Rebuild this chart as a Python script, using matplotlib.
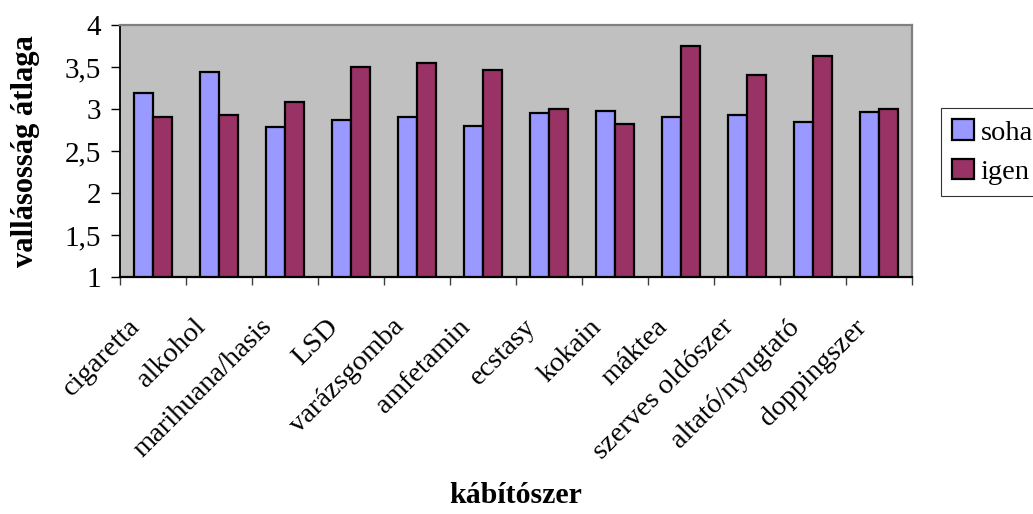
"""Grouped bar chart: mean religiosity by drug use (never / yes)."""
import matplotlib
matplotlib.use("Agg")
import matplotlib.pyplot as plt
import matplotlib.ticker as mticker
import matplotlib.transforms as mtransforms
from matplotlib.patches import Patch
import numpy as np

# ── data ─────────────────────────────────────────────────────────────────────
categories = ["cigaretta", "alkohol", "marihuana/hasis", "LSD", "varázsgomba",
              "amfetamin", "ecstasy", "kokain", "máktea", "szerves oldószer",
              "altató/nyugtató", "doppingszer"]
soha = [3.19, 3.44, 2.79, 2.87, 2.91, 2.80, 2.95, 2.98, 2.91, 2.93, 2.84, 2.96]
igen = [2.90, 2.93, 3.08, 3.50, 3.55, 3.47, 3.00, 2.82, 3.75, 3.40, 3.63, 3.00]
series_names = ["soha", "igen"]
y_ticks = [1, 1.5, 2, 2.5, 3, 3.5, 4]

# ── style ────────────────────────────────────────────────────────────────────
SOHA_CLR = "#9999FF"
IGEN_CLR = "#993366"
PLOT_BG = "#C0C0C0"
FRAME_CLR = "#808080"
FONT = "Liberation Serif"

plt.rcParams["font.family"] = FONT

fig = plt.figure(figsize=(10.33, 5.14), dpi=100, facecolor="white")
ax = fig.add_axes([120 / 1033, 1 - 277 / 514, 792 / 1033, 252 / 514])
ax.set_facecolor(PLOT_BG)

x = np.arange(len(categories))
w = 0.295
ax.bar(x - w / 2, np.array(soha) - 1, w, bottom=1, color=SOHA_CLR,
       edgecolor="black", linewidth=1.6, label=series_names[0], zorder=3)
ax.bar(x + w / 2, np.array(igen) - 1, w, bottom=1, color=IGEN_CLR,
       edgecolor="black", linewidth=1.6, label=series_names[1], zorder=3)

ax.set_xlim(-0.5, len(categories) - 0.5)
ax.set_ylim(1, 4)

# frame: black axes on left/bottom, grey border on top/right
ax.spines["left"].set_color("black")
ax.spines["bottom"].set_color("black")
ax.spines["left"].set_linewidth(1.3)
ax.spines["bottom"].set_linewidth(1.6)
for s in ("top", "right"):
    ax.spines[s].set_color(FRAME_CLR)
    ax.spines[s].set_linewidth(1.6)

# y axis, decimal comma
ax.set_yticks(y_ticks)
ax.yaxis.set_major_formatter(
    mticker.FuncFormatter(lambda v, _: f"{v:g}".replace(".", ",")))
ax.tick_params(axis="y", direction="out", length=6.5, width=1.0,
               color="black", labelsize=21, pad=7)

# x axis: ticks at category boundaries, labels at centres
ax.set_xticks(np.arange(len(categories) + 1) - 0.5)
ax.set_xticklabels([])
ax.tick_params(axis="x", which="major", direction="out", length=6,
               width=1.0, color="#404040")
ax.set_xticks(x, minor=True)
ax.set_xticklabels(categories, minor=True, rotation=45, ha="right",
                   va="top", fontsize=20.5)
ax.tick_params(axis="x", which="minor", length=0, pad=27)
shift = mtransforms.ScaledTranslation(-8 / 100, 0, fig.dpi_scale_trans)
for lbl in ax.get_xticklabels(minor=True):
    lbl.set_transform(lbl.get_transform() + shift)

# axis titles
fig.text(516 / 1033, 1 - 503 / 514, "kábítószer", ha="center",
         va="baseline", fontsize=21.5, fontweight="bold")
fig.text(26 / 1033, 1 - 151 / 514, "vallásosság átlaga", ha="center",
         va="center", rotation=90, fontsize=22, fontweight="bold")

# legend (box runs off the right edge of the figure)
handles = [Patch(facecolor=SOHA_CLR, edgecolor="black", linewidth=1.6),
           Patch(facecolor=IGEN_CLR, edgecolor="black", linewidth=1.6)]
leg = fig.legend(handles, series_names, loc="upper left",
                 bbox_to_anchor=(941 / 1033, 1 - 108 / 514),
                 fontsize=20.5, frameon=True, fancybox=False,
                 handlelength=0.75, handleheight=0.75, handletextpad=0.25,
                 borderpad=0.4, labelspacing=0.45, borderaxespad=0)
leg.get_frame().set_edgecolor("black")
leg.get_frame().set_linewidth(0.8)

fig.savefig("out.png", dpi=100, facecolor="white")
